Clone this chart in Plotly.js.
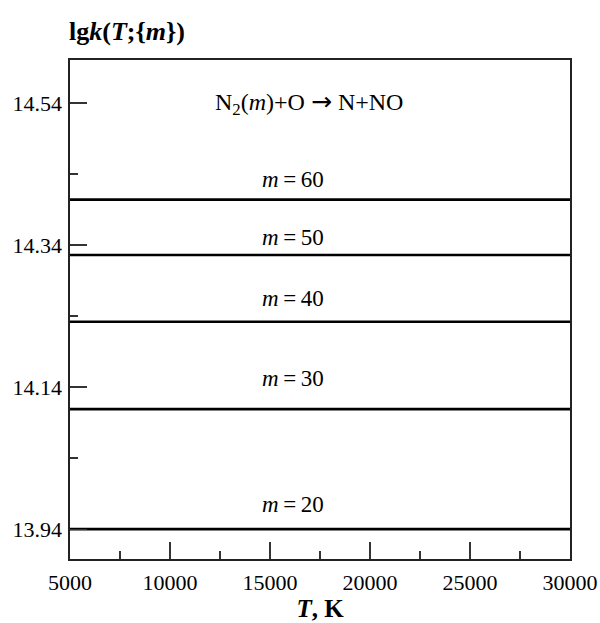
<!DOCTYPE html>
<html>
<head>
<meta charset="utf-8">
<script src="https://cdn.plot.ly/plotly-3.0.1.min.js"></script>
<style>html,body{margin:0;padding:0;background:#fff;}#chart{width:600px;height:623px;}</style>
</head>
<body>
<div id="chart"></div>
<script>
// Data
const tRange = [5000, 30000];
const mValues = [60, 50, 40, 30, 20];
const lgkValues = [14.404, 14.326, 14.232, 14.109, 13.940];
const yTickVals = [13.94, 14.14, 14.34, 14.54];
const xTickVals = [5000, 10000, 15000, 20000, 25000, 30000];

const FONT = 'Liberation Serif, Times New Roman, serif';
const labelShift = [6, 3, 9, 16, 10];

const traces = mValues.map((m, i) => ({
  x: tRange,
  y: [lgkValues[i], lgkValues[i]],
  mode: 'lines',
  line: {color: '#000', width: 2.6},
  hoverinfo: 'skip',
  showlegend: false
}));

const annotations = mValues.map((m, i) => ({
  x: 16150, y: lgkValues[i], xref: 'x', yref: 'y',
  text: '<i>m</i>\u2009=\u2009' + m, showarrow: false,
  xanchor: 'center', yanchor: 'bottom', yshift: labelShift[i],
  font: {family: FONT, size: 23, color: '#000'}
}));
annotations.push({
  x: 0.478, y: 0.914, xref: 'paper', yref: 'paper',
  text: 'N<sub>2</sub>(<i>m</i>)+O <span style="font-family:DejaVu Sans;font-size:25px">→</span> N+NO', showarrow: false,
  xanchor: 'center', yanchor: 'middle',
  font: {family: FONT, size: 24, color: '#000'}
});
annotations.push({
  x: -0.006, y: 1.058, xref: 'paper', yref: 'paper',
  text: '<b>lg<i>k</i>(<i>T</i>;{<i>m</i>})</b>', showarrow: false,
  xanchor: 'left', yanchor: 'middle',
  font: {family: FONT, size: 26, color: '#000'}
});

const layout = {
  width: 600, height: 623,
  margin: {l: 70, r: 30, t: 60, b: 64},
  paper_bgcolor: '#fff', plot_bgcolor: '#fff',
  font: {family: FONT, size: 22, color: '#000'},
  xaxis: {
    range: tRange, tickmode: 'array', tickvals: xTickVals, tickformat: 'd',
    ticks: 'inside', ticklen: 17, tickwidth: 1.3, tickcolor: '#333',
    minor: {ticks: 'inside', ticklen: 8, tickwidth: 1.3, tickcolor: '#333', tick0: 7500, dtick: 5000},
    showgrid: false, zeroline: false,
    showline: true, linecolor: '#222', linewidth: 1.6, mirror: true,
    tickfont: {family: FONT, size: 22, color: '#000'},
    ticklabelstandoff: 3,
    title: {text: '<b><i>T</i>, K</b>', font: {family: FONT, size: 25, color: '#000'}, standoff: 4}
  },
  yaxis: {
    range: [13.898, 14.6005], tickmode: 'array', tickvals: yTickVals,
    tickformat: '.2f',
    ticks: 'inside', ticklen: 17, tickwidth: 1.3, tickcolor: '#333',
    minor: {ticks: 'inside', ticklen: 8, tickwidth: 1.3, tickcolor: '#333', tick0: 14.04, dtick: 0.2},
    showgrid: false, zeroline: false,
    showline: true, linecolor: '#222', linewidth: 1.6, mirror: true,
    tickfont: {family: FONT, size: 22, color: '#000'},
    ticklabelstandoff: 2
  },
  annotations: annotations
};

Plotly.newPlot('chart', traces, layout, {displayModeBar: false, staticPlot: true});
</script>
</body>
</html>
